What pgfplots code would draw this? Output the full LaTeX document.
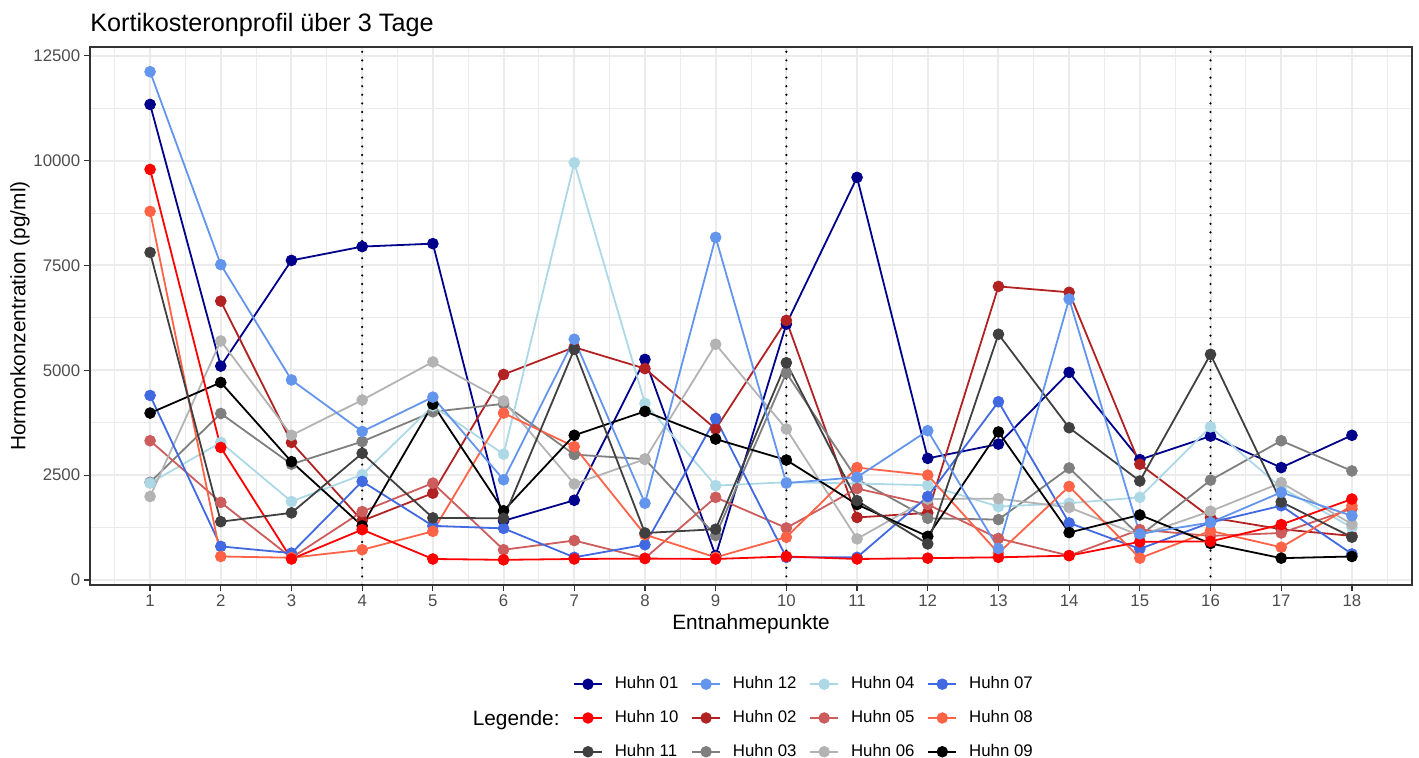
\documentclass[border=0pt]{standalone}
\usepackage{pgfplots}
\usepackage{pgfplotstable}
\pgfplotsset{compat=1.18}
\usepackage{fontspec}
\setmainfont{Liberation Sans}
\definecolor{c01}{HTML}{00008B}
\definecolor{c12}{HTML}{6495ED}
\definecolor{c04}{HTML}{ADD8E6}
\definecolor{c07}{HTML}{4169E1}
\definecolor{c10}{HTML}{FF0000}
\definecolor{c02}{HTML}{B22222}
\definecolor{c05}{HTML}{CD5C5C}
\definecolor{c08}{HTML}{FF6347}
\definecolor{c11}{HTML}{404040}
\definecolor{c03}{HTML}{7F7F7F}
\definecolor{c06}{HTML}{B3B3B3}
\definecolor{c09}{HTML}{000000}
\definecolor{gridc}{HTML}{EBEBEB}
\definecolor{grey20}{HTML}{333333}
\definecolor{grey30}{HTML}{4D4D4D}

\pgfplotstableread{
x h01 h02 h03 h04 h05 h06 h07 h08 h09 h10 h11 h12
1 11340 nan 2330 2310 3320 1990 4400 8790 3980 9790 7810 12120
2 5100 6650 3970 3280 1850 5700 800 560 4710 3160 1390 7520
3 7620 3280 2760 1870 530 3450 640 530 2820 500 1600 4770
4 7950 1410 3300 2510 1630 4290 2350 720 1290 1200 3020 3540
5 8020 2070 4010 4150 2310 5200 1290 1160 4190 500 1480 4360
6 1410 4900 4200 3000 720 4270 1230 3980 1650 480 1470 2390
7 1900 5550 2990 9950 940 2290 540 3180 3450 500 5500 5740
8 5260 5040 2880 4210 520 2880 840 1080 4020 510 1120 1830
9 580 3600 1060 2250 1970 5620 3850 540 3360 500 1210 8170
10 6100 6190 4940 2330 1240 3600 540 1020 2860 560 5180 2310
11 9600 1490 2400 2300 2180 980 540 2680 1800 500 1890 2450
12 2900 1600 1470 2260 1800 1930 1990 2500 1040 520 860 3560
13 3240 7000 1440 1750 990 1940 4250 640 3530 540 5860 750
14 4950 6860 2670 1830 580 1730 1360 2230 1130 580 3630 6700
15 2870 2760 1050 1970 1200 1060 740 520 1550 910 2360 1100
16 3430 1490 2380 3650 1050 1640 1370 1170 870 920 5380 1370
17 2680 1210 3320 2200 1120 2320 1770 780 520 1320 1860 2090
18 3450 1050 2600 1250 1700 1330 620 1770 560 1930 1020 1530
}\data

\begin{document}
\begin{tikzpicture}
\useasboundingbox (0,0) rectangle (709.5pt,379pt);
\begin{axis}[
  at={(45pt,86.5pt)}, anchor=south west,
  scale only axis, width=661pt, height=269pt,
  xmin=0.15, xmax=18.85, ymin=-120, ymax=12710,
  xtick={1,...,18}, ytick={0,2500,...,12500},
  minor xtick={0.5,1.5,...,18.5}, minor ytick={1250,3750,...,11250},
  grid=both,
  major grid style={color=gridc, line width=1pt},
  minor grid style={color=gridc, line width=0.5pt},
  axis line style={color=grey20, line width=0.6pt},
  tick style={color=grey20, line width=0.6pt},
  tick align=outside, major tick length=2.8pt, minor tick length=0pt,
  xtick pos=left, ytick pos=left,
  tick label style={font=\fontsize{8.4}{10}\selectfont, color=grey30},
  xticklabel style={yshift=1.2pt},
  yticklabel style={xshift=1.4pt, /pgf/number format/fixed, /pgf/number format/1000 sep={}},
  /pgf/number format/assume math mode=true,
  scaled y ticks=false,
  every axis title shift=0pt,
  title={Kortikosteronprofil über 3 Tage},
  title style={at={(axis description cs:0,1)}, anchor=base west, inner sep=0pt, yshift=7.65pt, font=\fontsize{12.6}{15}\selectfont},
  xlabel={Entnahmepunkte},
  ylabel={Hormonkonzentration (pg/ml)},
  xlabel style={at={(axis description cs:0.5,-0.0818)}, anchor=base, font=\fontsize{10.4}{12}\selectfont},
  ylabel style={at={(axis description cs:-0.053,0.5)}, anchor=center, font=\fontsize{10.4}{12}\selectfont},
  legend columns=4,
  legend cell align=left,
  legend image code/.code={\draw[#1, mark=none] (0pt,0pt) -- (14pt,0pt); \draw[#1] plot[only marks] coordinates {(7pt,0pt)};},
  legend style={at={(axis description cs:0.3654,-0.2472)}, anchor=west,
    draw=none, fill=none, inner sep=0pt, outer sep=0pt,
    font=\fontsize{8.4}{10}\selectfont, row sep=7.3pt,
    nodes={inner sep=1pt},
    /tikz/every odd column/.append style={column sep=5pt},
    /tikz/every even column/.append style={column sep=5.4pt}},
]
% vertical dotted lines
\addplot[black, line width=1.2pt, line cap=round, dash pattern=on 0pt off 4.3pt, forget plot] coordinates {(4,-120) (4,12710)};
\addplot[black, line width=1.2pt, line cap=round, dash pattern=on 0pt off 4.3pt, forget plot] coordinates {(10,-120) (10,12710)};
\addplot[black, line width=1.2pt, line cap=round, dash pattern=on 0pt off 4.3pt, forget plot] coordinates {(16,-120) (16,12710)};
% lines
\pgfplotsinvokeforeach{01,02,03,04,05,06,07,08,09,10,11,12}{
  \addplot[color=c#1, line width=0.9pt, forget plot] table[x=x,y=h#1]{\data};
}
% points
\pgfplotsinvokeforeach{01,02,03,04,05,06,07,08,09,10,11,12}{
  \addplot[color=c#1, only marks, mark=*, mark size=2.7pt, forget plot] table[x=x,y=h#1]{\data};
}
% legend
\addlegendimage{c01, line width=0.9pt, mark=*, mark size=2.4pt}\addlegendentry{Huhn 01}
\addlegendimage{c12, line width=0.9pt, mark=*, mark size=2.4pt}\addlegendentry{Huhn 12}
\addlegendimage{c04, line width=0.9pt, mark=*, mark size=2.4pt}\addlegendentry{Huhn 04}
\addlegendimage{c07, line width=0.9pt, mark=*, mark size=2.4pt}\addlegendentry{Huhn 07}
\addlegendimage{c10, line width=0.9pt, mark=*, mark size=2.4pt}\addlegendentry{Huhn 10}
\addlegendimage{c02, line width=0.9pt, mark=*, mark size=2.4pt}\addlegendentry{Huhn 02}
\addlegendimage{c05, line width=0.9pt, mark=*, mark size=2.4pt}\addlegendentry{Huhn 05}
\addlegendimage{c08, line width=0.9pt, mark=*, mark size=2.4pt}\addlegendentry{Huhn 08}
\addlegendimage{c11, line width=0.9pt, mark=*, mark size=2.4pt}\addlegendentry{Huhn 11}
\addlegendimage{c03, line width=0.9pt, mark=*, mark size=2.4pt}\addlegendentry{Huhn 03}
\addlegendimage{c06, line width=0.9pt, mark=*, mark size=2.4pt}\addlegendentry{Huhn 06}
\addlegendimage{c09, line width=0.9pt, mark=*, mark size=2.4pt}\addlegendentry{Huhn 09}
\end{axis}
\node[anchor=base east, font=\fontsize{10.4}{12}\selectfont, inner sep=0pt] at (280pt,16.25pt) {Legende:};
\end{tikzpicture}
\end{document}
